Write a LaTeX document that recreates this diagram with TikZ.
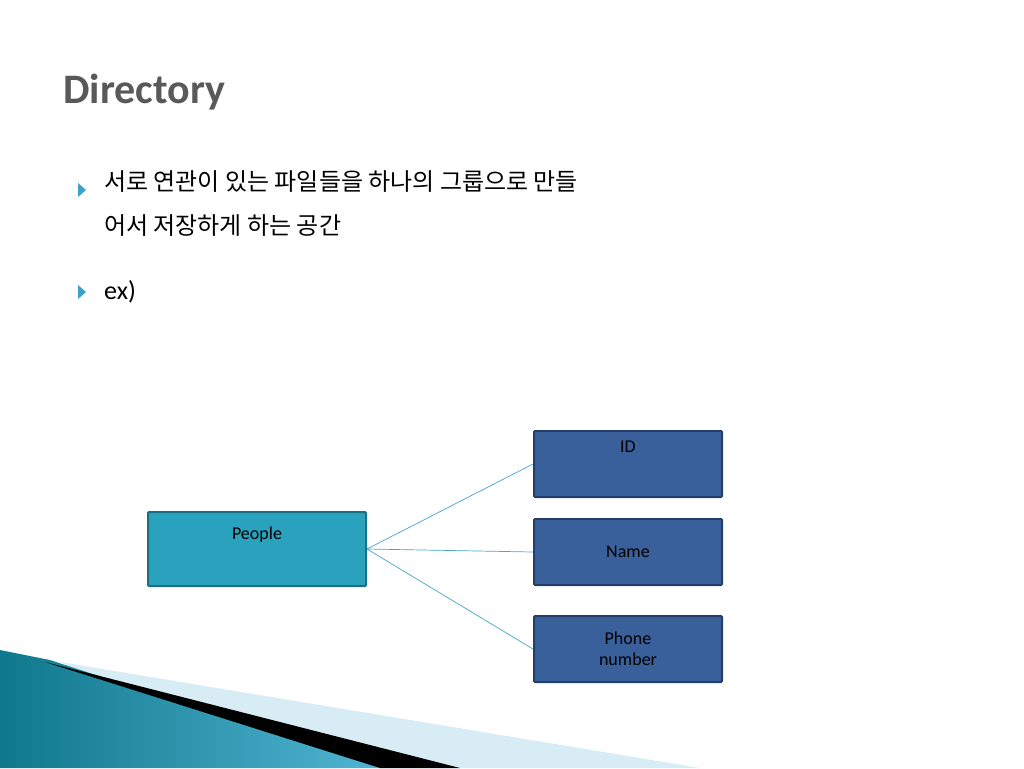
\documentclass[tikz,border=0pt]{standalone}
\usepackage{fontspec}
\setmainfont{Carlito}
\newfontfamily\kr{Noto Sans CJK KR}
\definecolor{pfill}{RGB}{42,162,190}
\definecolor{pdraw}{RGB}{28,110,130}
\definecolor{bfill}{RGB}{58,96,156}
\definecolor{bdraw}{RGB}{36,62,106}
\definecolor{teal1}{RGB}{16,120,140}
\definecolor{teal2}{RGB}{80,180,210}
\definecolor{lband}{RGB}{215,236,244}
\definecolor{bulc}{RGB}{60,160,200}
\definecolor{linkc}{RGB}{70,165,200}
\begin{document}
\begin{tikzpicture}[x=1pt,y=-1pt,
  box/.style={draw=bdraw,line width=2pt,rounded corners=1pt,fill=bfill,minimum width=188pt,minimum height=66pt,font=\fontsize{18}{21}\selectfont,align=center,text=black},
  link/.style={draw=linkc,line width=0.7pt}]
\useasboundingbox (0,0) rectangle (1024,768);
\fill[lband] (60,662) -- (700,768) -- (300,768) -- cycle;
\shade[left color=teal1,right color=teal2] (0,650) -- (50,660) -- (380,768) -- (0,768) -- cycle;
\fill[black] (45,662) -- (460,768) -- (380,768) -- cycle;
\node[anchor=west,font=\fontsize{42}{48}\selectfont\bfseries,text=black!65] (t) at (60,92) {Directory};
\fill[bulc] (78,183) -- (86,190) -- (78,197) -- cycle;
\fill[bulc] (78,285) -- (86,292) -- (78,299) -- cycle;
\node[anchor=north west,font=\kr\fontsize{24}{44}\selectfont,align=left,inner sep=0pt] (k) at (104,170) {서로 연관이 있는 파일들을 하나의 그룹으로 만들\\어서 저장하게 하는 공간};
\node[anchor=west,font=\fontsize{26}{30}\selectfont,inner sep=0pt] (ex) at (104,292) {ex)};
\node[box,draw=pdraw,fill=pfill,minimum width=218pt,minimum height=74pt] (p) at (257,549) {People\\[10pt]};
\node[box] (id) at (628,464) {ID\\[14pt]};
\node[box] (nm) at (628,552) {Name};
\node[box] (ph) at (628,649) {Phone\\number};
\draw[link] (p.east) -- (id.west);
\draw[link] (p.east) -- (nm.west);
\draw[link] (p.east) -- (ph.west);
\end{tikzpicture}
\end{document}
